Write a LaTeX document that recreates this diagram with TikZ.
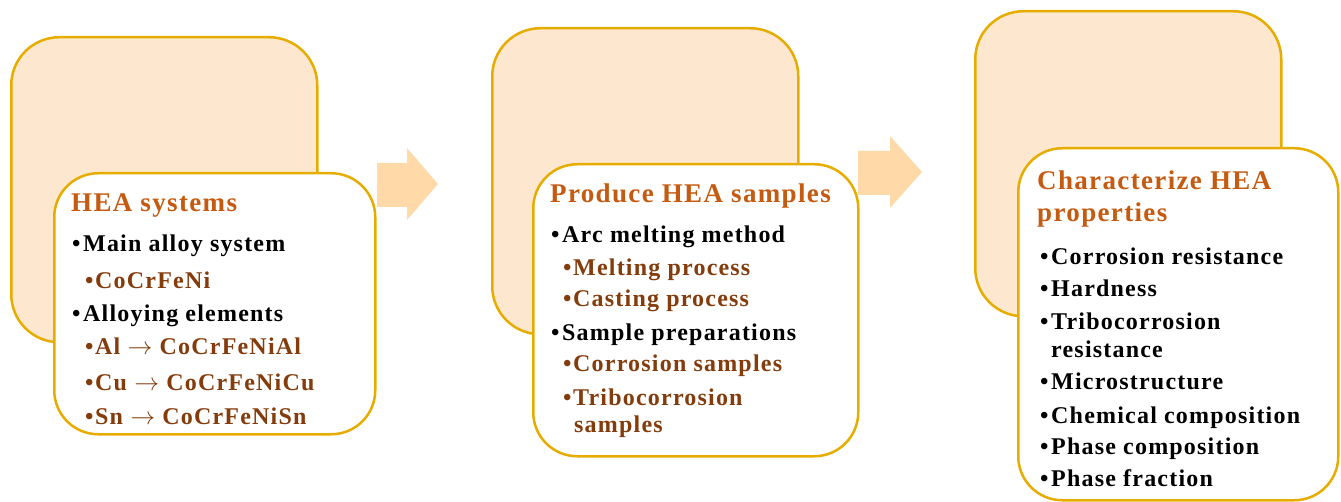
\documentclass[tikz,border=0pt]{standalone}
\usepackage{fontspec}
\setmainfont{Liberation Serif}[LetterSpace=5]
\definecolor{gold}{HTML}{E6AC00}
\definecolor{peach}{HTML}{FDE8CF}
\definecolor{arrowfill}{HTML}{FFDAA8}
\definecolor{heading}{HTML}{C55A11}
\definecolor{subitem}{HTML}{843C0C}
\newcommand{\lone}{\makebox[11pt][l]{•}}
\newcommand{\ltwo}{\makebox[10pt][l]{•}}
\newcommand{\gives}{\ \(\rightarrow\)\ }

\begin{document}
\begin{tikzpicture}[
  x=1pt, y=-1pt,
  backbox/.style={draw=gold, line width=2.5pt, fill=peach, rounded corners=48pt, anchor=north west, inner sep=0pt},
  frontbox/.style={draw=gold, line width=2.5pt, fill=white, rounded corners=44pt, anchor=north west, inner sep=0pt},
  title/.style={anchor=base west, inner sep=0pt, text=heading, font=\fontsize{27}{32}\selectfont\bfseries},
  item/.style={anchor=base west, inner sep=0pt, font=\fontsize{24}{28}\selectfont\bfseries},
  subitem/.style={item, text=subitem},
  blockarrow/.style={fill=arrowfill, draw=none}
]
\useasboundingbox (0,0) rectangle (1341,502);

% stage 1
\node[backbox, minimum width=306pt, minimum height=305pt] (back1) at (10,36) {};
\node[frontbox, minimum width=321pt, minimum height=261pt] (front1) at (53,172) {};
\node[title] (title1) at (71,212) {HEA systems};
\node[item] (main) at (72,252) {\lone Main alloy system};
\node[subitem] (base) at (85,289) {\ltwo CoCrFeNi};
\node[item] (alloying) at (72,322) {\lone Alloying elements};
\node[subitem] (al) at (85,355) {\ltwo Al\gives CoCrFeNiAl};
\node[subitem] (cu) at (85,390) {\ltwo Cu\gives CoCrFeNiCu};
\node[subitem] (sn) at (85,424) {\ltwo Sn\gives CoCrFeNiSn};

% arrow 1 -> 2
\fill[blockarrow] (377,163) -- (407,163) -- (407,148) -- (438,184) -- (407,220) -- (407,207) -- (377,207) -- cycle;

% stage 2
\node[backbox, minimum width=306pt, minimum height=306pt] (back2) at (491,27) {};
\node[frontbox, minimum width=325pt, minimum height=292pt] (front2) at (532,163) {};
\node[title] (title2) at (550,203) {Produce HEA samples};
\node[item] (arc) at (551,243) {\lone Arc melting method};
\node[subitem] (melting) at (563,276) {\ltwo Melting process};
\node[subitem] (casting) at (563,307) {\ltwo Casting process};
\node[item] (prep) at (551,341) {\lone Sample preparations};
\node[subitem] (corrsamp) at (563,372) {\ltwo Corrosion samples};
\node[subitem] (tribosamp) at (563,405) {\ltwo Tribocorrosion};
\node[subitem] (tribosamp2) at (574,432) {samples};

% arrow 2 -> 3
\fill[blockarrow] (858,151) -- (890,151) -- (890,136) -- (922,172) -- (890,208) -- (890,195) -- (858,195) -- cycle;

% stage 3
\node[backbox, minimum width=306pt, minimum height=305pt] (back3) at (974,10) {};
\node[frontbox, minimum width=320pt, minimum height=352pt] (front3) at (1017,147) {};
\node[title] (title3) at (1037,190) {Characterize HEA};
\node[title] (title3b) at (1037,222) {properties};
\node[item] (corr) at (1040,265) {\lone Corrosion resistance};
\node[item] (hard) at (1040,297) {\lone Hardness};
\node[item] (tribo) at (1040,330) {\lone Tribocorrosion};
\node[item] (tribo2) at (1051,358) {resistance};
\node[item] (micro) at (1040,389) {\lone Microstructure};
\node[item] (chem) at (1040,423) {\lone Chemical composition};
\node[item] (phasecomp) at (1040,454) {\lone Phase composition};
\node[item] (phasefrac) at (1040,486) {\lone Phase fraction};
\end{tikzpicture}
\end{document}
